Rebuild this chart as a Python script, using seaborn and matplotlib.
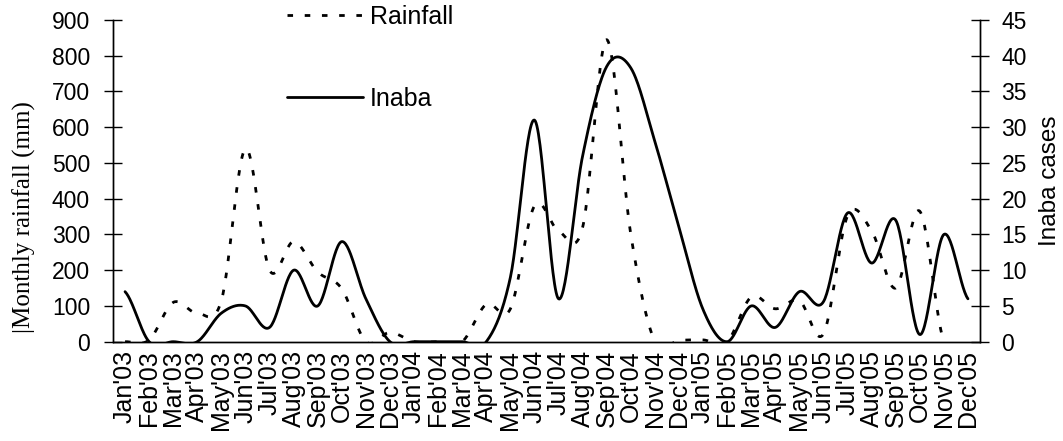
import numpy as np
import pandas as pd
import matplotlib
matplotlib.use("Agg")
import matplotlib.pyplot as plt
import seaborn as sns

months = ["Jan'03", "Feb'03", "Mar'03", "Apr'03", "May'03", "Jun'03", "Jul'03", "Aug'03",
          "Sep'03", "Oct'03", "Nov'03", "Dec'03", "Jan'04", "Feb'04", "Mar'04", "Apr'04",
          "May'04", "Jun'04", "Jul'04", "Aug'04", "Sep'04", "Oct'04", "Nov'04", "Dec'04",
          "Jan'05", "Feb'05", "Mar'05", "Apr'05", "May'05", "Jun'05", "Jul'05", "Aug'05",
          "Sep'05", "Oct'05", "Nov'05", "Dec'05"]

# monthly rainfall (mm), Jan'03 .. Nov'05
rainfall = [0, 5, 110, 80, 115, 540, 200, 280, 195, 148, 0, 26,
            0, 0, 0, 105, 92, 380, 310, 320, 845, 300, 0, 4,
            5, 0, 125, 92, 115, 22, 352, 310, 150, 365, 0]

# monthly Inaba cases, Jan'03 .. Dec'05
inaba = [7, 0, 0, 0, 4, 5, 2, 10, 5, 14, 6, 0,
         0, 0, 0, 0, 9, 31, 6, 26, 38.5, 38.3, 28, 16,
         4.5, 0, 5, 2, 7, 5.6, 18, 11, 17, 1, 15, 6]

rain_ticks = list(range(0, 1000, 100))
case_ticks = list(range(0, 50, 5))


def smoothed(values, steps=30):
    """Cubic Bezier path through the points with Catmull-Rom style tangents."""
    y = np.asarray(values, dtype=float)
    n = len(y)
    p = np.concatenate([[y[0]], y, [y[-1]]])
    t = np.linspace(0, 1, steps, endpoint=False)
    xs, ys = [], []
    for i in range(n - 1):
        p0, p1 = p[i + 1], p[i + 2]
        c1 = p0 + (p[i + 2] - p[i]) / 6.0
        c2 = p1 - (p[i + 3] - p[i + 1]) / 6.0
        yy = (1 - t) ** 3 * p0 + 3 * (1 - t) ** 2 * t * c1 + 3 * (1 - t) * t ** 2 * c2 + t ** 3 * p1
        xs.append(i + t)
        ys.append(yy)
    xs.append([n - 1.0])
    ys.append([y[-1]])
    return pd.DataFrame({"x": np.concatenate(xs), "y": np.concatenate(ys)})


sns.set_theme(style="white")
plt.rcParams["font.family"] = ["Liberation Sans", "DejaVu Sans"]
plt.rcParams.update({"text.color": "black", "axes.labelcolor": "black",
                     "xtick.color": "black", "ytick.color": "black"})

fig = plt.figure(figsize=(10.63, 4.41), dpi=100)
ax = fig.add_axes([113 / 1063, 1 - 341.7 / 441, 867 / 1063, 321.7 / 441])
ax2 = ax.twinx()

rain_df = smoothed(rainfall)
case_df = smoothed(inaba)

sns.lineplot(data=rain_df, x="x", y="y", ax=ax, color="black", lw=2.0,
             linestyle=(0, (2, 4.2)), sort=False, estimator=None)
sns.lineplot(data=case_df, x="x", y="y", ax=ax2, color="black", lw=2.0,
             sort=False, estimator=None)

ax.set_xlim(-0.5, len(months) - 0.5)
ax.set_ylim(0, 900)
ax2.set_ylim(0, 45)
ax.set_yticks(rain_ticks)
ax2.set_yticks(case_ticks)

# category labels at the centres, tick marks between categories
ax.set_xticks(range(len(months)))
ax.set_xticklabels(months, rotation=90, fontsize=18, color="black")
ax.set_xticks(np.arange(-0.5, len(months)), minor=True)
ax.tick_params(axis="x", which="major", length=0, pad=6)
ax.tick_params(axis="x", which="minor", direction="inout", length=13, width=1, color="black")
ax.tick_params(axis="y", direction="inout", length=13, width=1, color="black",
               labelcolor="black", labelsize=16.5, pad=10)
ax2.tick_params(axis="y", direction="inout", length=13, width=1, color="black",
                labelcolor="black", labelsize=16.5, pad=9)

for a in (ax, ax2):
    a.set_xlabel("")
    a.grid(False)
    a.spines["top"].set_visible(False)
    for side in ("left", "right", "bottom"):
        a.spines[side].set_color("black")
        a.spines[side].set_linewidth(1)
    a.set_facecolor("none")

ax.set_ylabel("|Monthly rainfall (mm)", family=["Liberation Serif", "DejaVu Serif"],
              fontsize=18, va="center", color="black")
ax.yaxis.set_label_coords(-0.1027, 0.388)
ax2.set_ylabel("Inaba cases", fontsize=17.5, va="center", color="black")
ax2.yaxis.set_label_coords(1.081, 0.5)

h1 = ax.get_lines()[0]
h2 = ax2.get_lines()[0]
fig.legend([h1, h2], ["Rainfall", "Inaba"], loc="upper left",
           bbox_to_anchor=(287 / 1063, 1 - 5 / 441), frameon=False, fontsize=18,
           handlelength=3.05, handletextpad=0.25, labelspacing=2.3,
           borderpad=0, borderaxespad=0, labelcolor="black")

fig.savefig("out.png", dpi=100, facecolor="white")
